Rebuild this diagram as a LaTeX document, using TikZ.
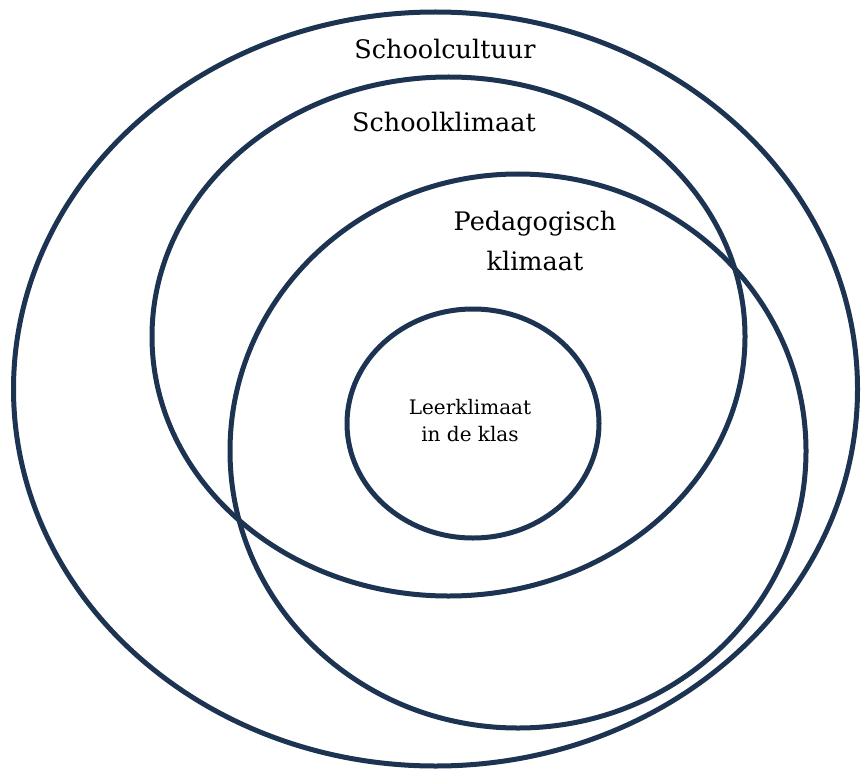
\documentclass[tikz,border=0pt]{standalone}
\usepackage{fontspec}
\setmainfont{DejaVu Serif}
\definecolor{navy}{HTML}{1C3352}
\begin{document}
\begin{tikzpicture}[x=1pt,y=-1pt,
  ring/.style={draw=navy,line width=5pt},
  big/.style={font=\fontsize{25.5}{40}\selectfont,align=center,text=black,inner sep=0pt},
  small/.style={font=\fontsize{20}{27}\selectfont,align=center,text=black,inner sep=0pt}]
\useasboundingbox (0,0) rectangle (861,770);
\draw[ring] (435.5,389) ellipse [x radius=422, y radius=377];
\draw[ring] (448.5,336.5) ellipse [x radius=296.5, y radius=259.5];
\draw[ring] (518,451) ellipse [x radius=288, y radius=277];
\draw[ring] (473,423.5) ellipse [x radius=126, y radius=114.5];
\node[big] (cult) at (445,49) {Schoolcultuur};
\node[big] (klim) at (444,122) {Schoolklimaat};
\node[big] (ped) at (535,241) {Pedagogisch\\klimaat};
\node[small] (leer) at (470,421) {Leerklimaat\\in de klas};
\end{tikzpicture}
\end{document}
